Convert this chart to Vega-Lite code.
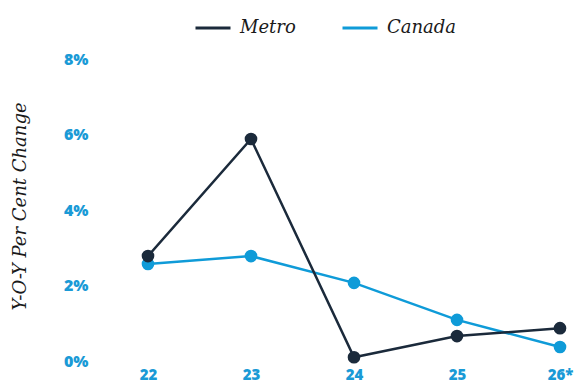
{
  "$schema": "https://vega.github.io/schema/vega-lite/v6.json",
  "width": 412,
  "height": 302,
  "autosize": "none",
  "padding": {"left": 148, "top": 59, "right": 16, "bottom": 22},
  "background": "white",
  "data": {
    "values": [
      {"year": "22", "series": "Canada", "value": 2.57},
      {"year": "23", "series": "Canada", "value": 2.78},
      {"year": "24", "series": "Canada", "value": 2.07},
      {"year": "25", "series": "Canada", "value": 1.09},
      {"year": "26*", "series": "Canada", "value": 0.37},
      {"year": "22", "series": "Metro", "value": 2.78},
      {"year": "23", "series": "Metro", "value": 5.88},
      {"year": "24", "series": "Metro", "value": 0.1},
      {"year": "25", "series": "Metro", "value": 0.66},
      {"year": "26*", "series": "Metro", "value": 0.87}
    ]
  },
  "mark": {"type": "line", "strokeWidth": 2.5, "point": {"filled": true, "size": 160, "opacity": 1}},
  "encoding": {
    "x": {
      "field": "year", "type": "ordinal", "sort": null,
      "scale": {"type": "point", "padding": 0},
      "axis": {"title": null, "domain": false, "ticks": false, "labelAngle": 0, "labelPadding": 6,
               "labelFont": "Open Sans", "labelFontWeight": 800, "labelFontSize": 15, "labelColor": "#1a9ad6"}
    },
    "y": {
      "field": "value", "type": "quantitative",
      "scale": {"domain": [0, 8], "nice": false},
      "axis": {"values": [0, 2, 4, 6, 8], "labelExpr": "datum.value + '%'", "grid": false, "domain": false, "ticks": false,
               "labelPadding": 60, "labelFont": "Open Sans", "labelFontWeight": 800, "labelFontSize": 16, "labelColor": "#1a9ad6",
               "title": "Y-O-Y Per Cent Change", "titleFont": "DejaVu Serif", "titleFontStyle": "italic", "titleFontWeight": "normal",
               "titleFontSize": 18, "titleColor": "#1a1a1a", "titleX": -128, "titleY": 147, "titleAngle": -90, "titleAlign": "center", "titleBaseline": "middle"}
    },
    "color": {
      "field": "series", "type": "nominal",
      "scale": {"domain": ["Metro", "Canada"], "range": ["#1b2a3b", "#0f9bd8"]},
      "legend": {"title": null, "orient": "none", "direction": "horizontal", "legendX": 46, "legendY": -50,
                 "symbolType": "stroke", "symbolSize": 1225, "symbolStrokeWidth": 3, "columnPadding": 40, "labelOffset": 8,
                 "labelFont": "DejaVu Serif", "labelFontStyle": "italic", "labelFontSize": 18, "labelColor": "#1a1a1a"}
    }
  },
  "config": {"view": {"stroke": null}}
}
